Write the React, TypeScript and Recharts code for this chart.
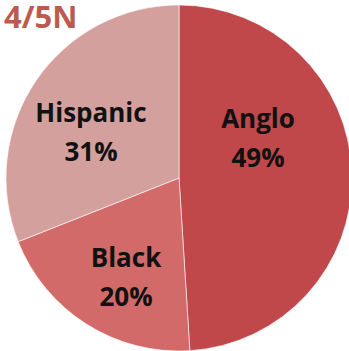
import { PieChart, Pie, Cell } from 'recharts'

const groups = ['Anglo', 'Black', 'Hispanic']
const shares = [49, 20, 31]
const colors = ['#C0474A', '#D26A69', '#D4A09D']

// label anchor offsets from pie center (first-line baseline)
const labelOffsets: Record<string, [number, number]> = {
  Anglo: [79, -50],
  Black: [-53, 89],
  Hispanic: [-88, -56],
}

const data = groups.map((name, i) => ({ name, value: shares[i] }))

const renderLabel = (props: any) => {
  const { cx, cy, name, value } = props
  const [dx, dy] = labelOffsets[name] || [0, 0]
  const x = cx + dx
  const y = cy + dy
  return (
    <text
      x={x}
      y={y}
      textAnchor="middle"
      fill="#111"
      style={{ fontFamily: '"Open Sans", sans-serif', fontWeight: 700, fontSize: 26 }}
    >
      <tspan x={x} y={y}>{name}</tspan>
      <tspan x={x} y={y + 39}>{value}%</tspan>
    </text>
  )
}

export default function App() {
  return (
    <div style={{ position: 'absolute', left: 0, top: 0, width: 349, height: 351, background: '#fff' }}>
      <PieChart width={349} height={351} margin={{ top: 0, right: 0, bottom: 0, left: 0 }}>
        <Pie
          data={data}
          dataKey="value"
          nameKey="name"
          cx={179}
          cy={178}
          outerRadius={173}
          startAngle={90}
          endAngle={-270}
          stroke="#fff"
          strokeWidth={0.6}
          label={renderLabel}
          labelLine={false}
          isAnimationActive={false}
        >
          {data.map((entry, index) => (
            <Cell key={`cell-${index}`} fill={colors[index]} />
          ))}
        </Pie>
        <text
          x={4}
          y={28}
          fill="#BD5A50"
          style={{ fontFamily: '"Open Sans", sans-serif', fontWeight: 700, fontSize: 31 }}
        >
          4/5N
        </text>
      </PieChart>
    </div>
  )
}
